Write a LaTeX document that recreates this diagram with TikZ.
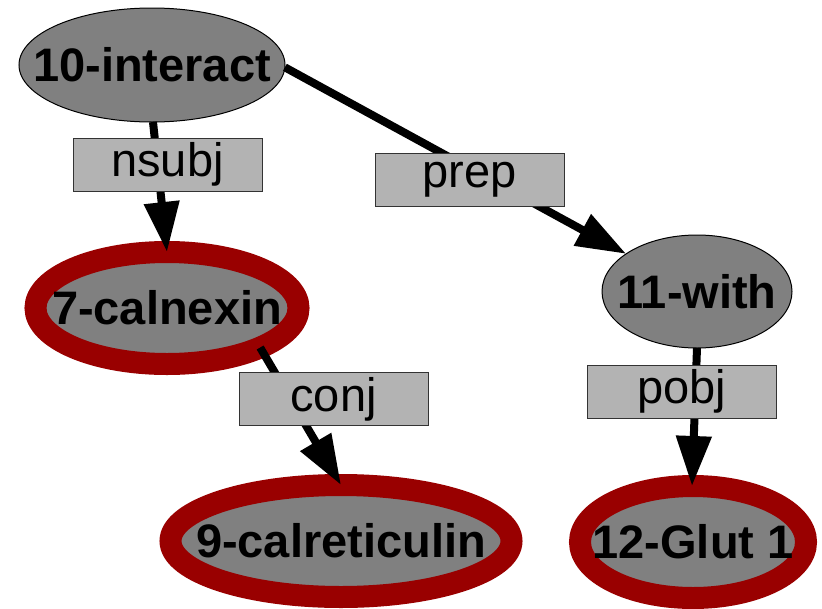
\documentclass[tikz,border=0pt]{standalone}
\usepackage{fontspec}
\setmainfont{Liberation Sans}
\usetikzlibrary{shapes.geometric,arrows.meta}
\definecolor{nodegray}{RGB}{128,128,128}
\definecolor{labelgray}{RGB}{179,179,179}
\definecolor{hilite}{RGB}{153,0,0}
% zero-width text box so the ellipse keeps its given size
\newcommand{\wordtext}[1]{\makebox[0pt]{#1}}
\tikzset{
  word/.style={ellipse, fill=nodegray, draw=black, line width=1pt, inner sep=0pt, outer sep=0pt,
    font=\fontsize{47}{52}\selectfont\bfseries},
  marked/.style={word, draw=hilite, line width=22pt},
  dep/.style={rectangle, fill=labelgray, draw=black!80, line width=1pt, inner sep=0pt,
    minimum width=189pt, minimum height=53pt, font=\fontsize{47}{52}\selectfont},
  link/.style={line width=8pt, -{Triangle[length=50pt,width=34pt]}}
}
\begin{document}
\begin{tikzpicture}[x=1pt,y=-1pt]
  \useasboundingbox (0,0) rectangle (822,608);
  % words
  \node[word, minimum width=266pt, minimum height=114pt] (n10) at (152,65) {\wordtext{10-interact}};
  \node[marked, minimum width=263pt, minimum height=112pt] (n7) at (167,308) {\wordtext{7-calnexin}};
  \node[marked, minimum width=341pt, minimum height=112pt] (n9) at (341,541) {\wordtext{9-calreticulin}};
  \node[word, minimum width=190pt, minimum height=113pt] (n11) at (697,291.5) {\wordtext{11-with}};
  \node[marked, minimum width=226pt, minimum height=112pt] (n12) at (693,542) {\wordtext{12-Glut 1}};
  % dependencies
  \draw[link] (n10.-89) -- (n7.90);
  \draw[link] (n10.-1) -- (n11.152);
  \draw[link] (n7.-23) -- (n9.90);
  \draw[link] (n11.-90) -- (n12.91);
  % dependency labels
  \node[dep] (l1) at (167.5,164.5) {nsubj};
  \node[dep] (l2) at (469.5,179.5) {prep};
  \node[dep] (l3) at (333.5,399) {conj};
  \node[dep] (l4) at (681.5,391.5) {pobj};
\end{tikzpicture}
\end{document}
